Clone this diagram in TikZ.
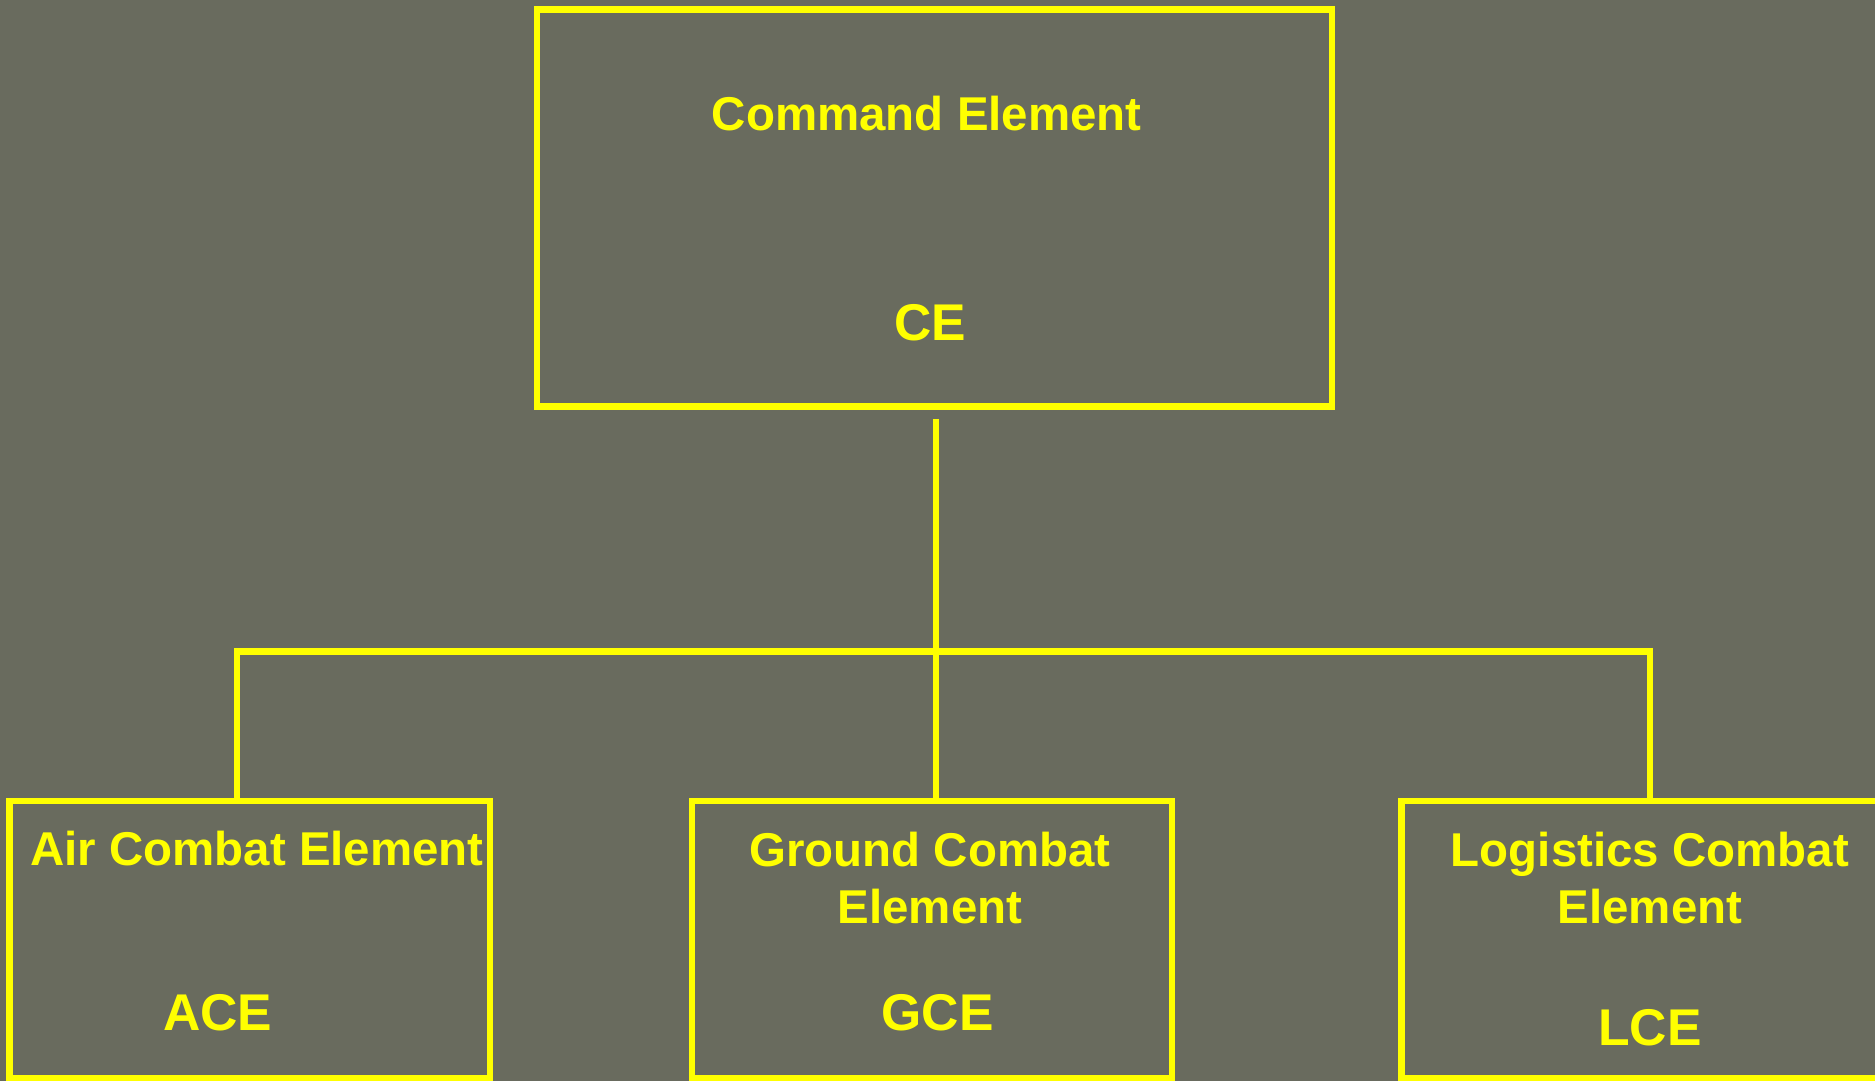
\documentclass[tikz,border=0pt]{standalone}
\usepackage{fontspec}
\setmainfont{Liberation Sans}
\definecolor{mefbg}{RGB}{105,107,94}
\definecolor{mefyellow}{RGB}{255,255,0}

\begin{document}
\begin{tikzpicture}[
    unit/.style={draw=mefyellow, line width=0.65mm, inner sep=0pt},
    elname/.style={text=mefyellow, align=center, font=\bfseries\fontsize{13.5}{16.3}\selectfont},
    elabbr/.style={text=mefyellow, font=\bfseries\fontsize{14.7}{17}\selectfont},
    link/.style={draw=mefyellow, line width=0.65mm}]
      % Background
      \fill[mefbg] (0,0) rectangle (18.75,-10.81);
      \useasboundingbox (0,0) rectangle (18.75,-10.81);

      % Top: command element
      \node[unit, minimum width=7.95cm, minimum height=3.97cm] (cmd) at (9.345,-2.081) {};
      \node[elname] (cmdname) at (9.268,-1.136) {Command Element};
      \node[elabbr] (cmdabbr) at (9.30,-3.23) {CE};

      % Bottom: combat elements
      \node[unit, minimum width=4.804cm, minimum height=2.776cm] (air) at (2.498,-9.398) {};
      \node[elname] (airname) at (2.57,-8.49) {Air Combat Element};
      \node[elabbr] (airabbr) at (2.176,-10.13) {ACE};

      \node[unit, minimum width=4.80cm, minimum height=2.776cm] (gnd) at (9.32,-9.398) {};
      \node[elname] (gndname) at (9.30,-8.777) {Ground Combat\\Element};
      \node[elabbr] (gndabbr) at (9.375,-10.13) {GCE};

      \node[unit, minimum width=4.97cm, minimum height=2.776cm] (log) at (16.5,-9.398) {};
      \node[elname] (logname) at (16.5,-8.777) {Logistics Combat\\Element};
      \node[elabbr] (logabbr) at (16.5,-10.28) {LCE};

      % Connectors
      \coordinate (drop) at ([xshift=0.15mm]cmd.south);
      \coordinate (busL) at (2.37,-6.517);
      \coordinate (busR) at (16.5,-6.517);
      \draw[link, shorten <=0.09cm] (drop) -- (drop |- gnd.north);
      \draw[link] (air.north -| busL) -- (busL) -- (busR) -- (log.north -| busR);
    \end{tikzpicture}
\end{document}
